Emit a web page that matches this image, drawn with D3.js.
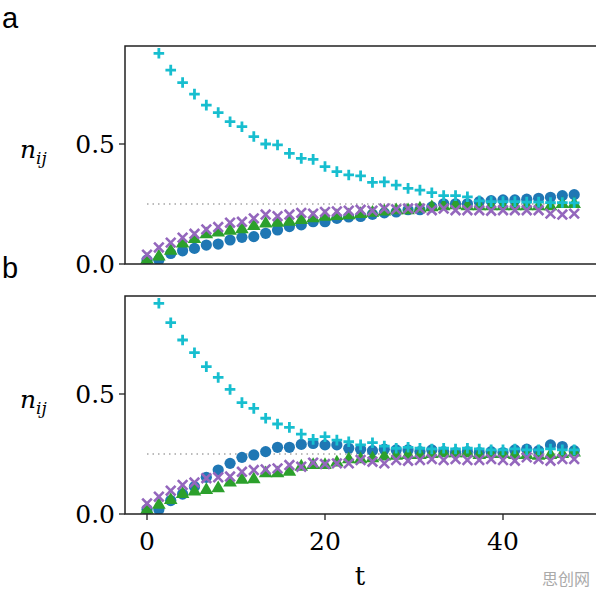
<!DOCTYPE html>
<html><head><meta charset="utf-8">
<script src="https://cdn.jsdelivr.net/npm/d3@7"></script>
<style>body{margin:0;background:#fff}</style>
</head><body>
<script>
// t = k * 4/3, k = 0..36
const tValues = d3.range(37).map(k => k * 4 / 3);
const yTicks = [0, 0.5];
const xTicks = [0, 20, 40];

const aBlue = [0.017,0.017,0.044,0.055,0.065,0.079,0.083,0.1,0.111,0.114,0.128,0.142,0.156,0.163,0.176,0.176,0.19,0.196,0.198,0.207,0.213,0.217,0.226,0.226,0.238,0.251,0.251,0.251,0.26,0.264,0.267,0.267,0.27,0.274,0.278,0.285,0.289];
const aGreen = [0.017,0.031,0.055,0.085,0.104,0.124,0.131,0.138,0.144,0.158,0.168,0.172,0.176,0.183,0.19,0.197,0.2,0.203,0.208,0.213,0.218,0.224,0.224,0.231,0.236,0.24,0.244,0.24,0.24,0.24,0.24,0.24,0.24,0.24,0.24,0.25,0.25];
const aPurple = [0.039,0.069,0.089,0.11,0.126,0.144,0.154,0.172,0.176,0.19,0.206,0.199,0.206,0.213,0.21,0.217,0.219,0.222,0.226,0.222,0.231,0.228,0.231,0.231,0.224,0.231,0.224,0.224,0.224,0.222,0.224,0.224,0.224,0.224,0.21,0.206,0.21];
const aCyan = [1.0,0.878,0.808,0.756,0.708,0.662,0.631,0.593,0.572,0.531,0.5,0.496,0.461,0.44,0.436,0.406,0.385,0.371,0.367,0.34,0.342,0.329,0.315,0.308,0.297,0.285,0.285,0.28,0.263,0.26,0.26,0.26,0.258,0.258,0.256,0.256,0.255];

const bBlue = [0.019,0.019,0.056,0.083,0.114,0.153,0.183,0.211,0.236,0.246,0.26,0.278,0.278,0.29,0.294,0.288,0.288,0.274,0.27,0.264,0.27,0.267,0.267,0.26,0.267,0.26,0.256,0.26,0.256,0.26,0.256,0.267,0.27,0.264,0.288,0.281,0.264];
const bGreen = [0.017,0.038,0.058,0.083,0.093,0.1,0.107,0.131,0.142,0.144,0.169,0.169,0.176,0.197,0.204,0.204,0.214,0.228,0.228,0.232,0.239,0.242,0.246,0.246,0.25,0.253,0.253,0.253,0.246,0.25,0.25,0.246,0.246,0.242,0.246,0.25,0.256];
const bPurple = [0.044,0.072,0.097,0.121,0.131,0.149,0.153,0.156,0.176,0.183,0.186,0.19,0.204,0.197,0.214,0.208,0.211,0.211,0.225,0.218,0.211,0.225,0.222,0.225,0.229,0.225,0.229,0.225,0.225,0.229,0.225,0.222,0.236,0.229,0.222,0.229,0.229];
const bCyan = [1.0,0.878,0.797,0.725,0.672,0.614,0.569,0.519,0.464,0.44,0.399,0.375,0.361,0.333,0.311,0.322,0.308,0.301,0.288,0.297,0.283,0.274,0.278,0.274,0.271,0.274,0.271,0.274,0.271,0.267,0.267,0.271,0.267,0.267,0.271,0.267,0.267];

const panels = [
  {label: "a", top: 46, series: [aBlue, aGreen, aPurple, aCyan], xLabels: false},
  {label: "b", top: 296, series: [bBlue, bGreen, bPurple, bCyan], xLabels: true}
];
const colors = ["#1f77b4", "#2ca02c", "#9467bd", "#17becf"];
const shapes = ["circle", "triangle", "x", "plus"];

const W = 596, H = 596;
const svg = d3.select("body").append("svg").attr("width", W).attr("height", H);
const x = d3.scaleLinear().domain([0, 20]).range([147, 325]);
const serif = "'DejaVu Serif', serif";

function marker(g, shape, color) {
  if (shape === "circle") g.append("circle").attr("r", 5.6).attr("fill", color);
  else if (shape === "triangle") g.append("path").attr("d", d3.symbol(d3.symbolTriangle, 80)()).attr("fill", color);
  else if (shape === "x") g.append("path").attr("d", "M-4.8,-4.8L4.8,4.8M-4.8,4.8L4.8,-4.8").attr("stroke", color).attr("stroke-width", 2.6);
  else g.append("path").attr("d", "M-5.3,0L5.3,0M0,-5.3L0,5.3").attr("stroke", color).attr("stroke-width", 2.8);
}

panels.forEach(p => {
  const bottom = p.top + 218;
  const y = d3.scaleLinear().domain([0, 0.5]).range([bottom, bottom - 120]);
  const g = svg.append("g");
  const clipId = "clip" + p.label;
  svg.append("clipPath").attr("id", clipId).append("rect")
    .attr("x", 125).attr("y", p.top).attr("width", 470).attr("height", 218);

  const plot = g.append("g").attr("clip-path", `url(#${clipId})`);
  plot.append("line").attr("x1", x(0)).attr("x2", x(48)).attr("y1", y(0.25)).attr("y2", y(0.25))
    .attr("stroke", "#bbb").attr("stroke-width", 2).attr("stroke-dasharray", "1.5,4");

  p.series.forEach((vals, si) => {
    vals.forEach((v, i) => {
      const m = plot.append("g").attr("transform", `translate(${x(tValues[i])},${y(v)})`);
      marker(m, shapes[si], colors[si]);
    });
  });

  g.append("rect").attr("x", 125).attr("y", p.top).attr("width", 475).attr("height", 218)
    .attr("fill", "none").attr("stroke", "#222").attr("stroke-width", 1.5);

  yTicks.forEach(t => {
    g.append("line").attr("x1", 119).attr("x2", 125).attr("y1", y(t)).attr("y2", y(t)).attr("stroke", "#222").attr("stroke-width", 1.3);
    g.append("text").attr("x", 115).attr("y", y(t) + 9).attr("text-anchor", "end")
      .attr("font-family", serif).attr("font-size", 25).text(t.toFixed(1));
  });
  if (p.xLabels) {
    xTicks.forEach(t => {
      g.append("line").attr("x1", x(t)).attr("x2", x(t)).attr("y1", bottom).attr("y2", bottom + 6).attr("stroke", "#222").attr("stroke-width", 1.3);
      g.append("text").attr("x", x(t)).attr("y", bottom + 36).attr("text-anchor", "middle")
        .attr("font-family", serif).attr("font-size", 25).text(t);
    });
  }
  const yl = g.append("text").attr("x", 20).attr("y", p.top + 112).attr("font-family", serif)
    .attr("font-style", "italic").attr("font-size", 25);
  yl.append("tspan").text("n");
  yl.append("tspan").attr("font-size", 17).attr("dy", 6).text("ij");

  g.append("text").attr("x", 2).attr("y", p.top - 18).attr("font-family", "'Liberation Sans', sans-serif")
    .attr("font-size", 29).text(p.label);
});

svg.append("text").attr("x", 360).attr("y", 585).attr("text-anchor", "middle")
  .attr("font-family", serif).attr("font-size", 26).text("t");
svg.append("text").attr("x", 590).attr("y", 585).attr("text-anchor", "end")
  .attr("font-family", "'Noto Sans CJK SC', sans-serif").attr("font-size", 16).attr("fill", "#aaa").text("思创网");
</script>
</body></html>
